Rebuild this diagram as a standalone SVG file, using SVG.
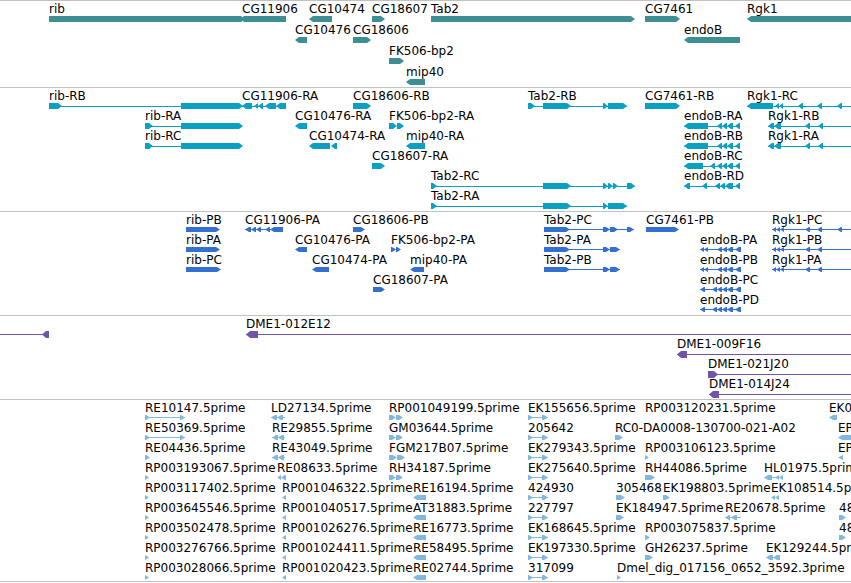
<svg xmlns="http://www.w3.org/2000/svg" width="851" height="583" viewBox="0 0 851 583">
<style>
text{font-family:"DejaVu Sans","Liberation Sans",sans-serif;font-size:12px;fill:#000}
.sep{stroke:#c0c0c0;stroke-width:1;fill:none}
.g{fill:#3d8f93}
.t{fill:#0aa0c2}
.tl{stroke:#0aa0c2;stroke-width:1;fill:none}
.p{fill:#3370d0}
.pl{stroke:#3370d0;stroke-width:1;fill:none}
.c{fill:#7055a6}
.cl{stroke:#7055a6;stroke-width:1;fill:none}
.e{fill:#80b8e0}
.el{stroke:#80b8e0;stroke-width:1;fill:none}
</style>
<rect width="851" height="583" fill="#fff"/>
<g id="separators">
<path class="sep" d="M0,0.5H851M0,87.5H851M0,211.5H851M0,315.5H851M0,399.5H851M0,581.5H851"/>
</g>
<g id="connectors"></g>

<!-- Gene track -->
<g id="genes">
<g id="gene-rib"><text x="49" y="13">rib</text><path class="g" d="M49,16H241L245,19L241,22H49Z"/></g>
<g id="gene-CG11906"><text x="242" y="13">CG11906</text><path class="g" d="M286,16H244L240,19L244,22H286Z"/></g>
<g id="gene-CG10474"><text x="309" y="13">CG10474</text><path class="g" d="M332,16H313L309,19L313,22H332Z"/></g>
<g id="gene-CG18607"><text x="372" y="13">CG18607</text><path class="g" d="M372,16H381L385,19L381,22H372Z"/></g>
<g id="gene-Tab2"><text x="431" y="13">Tab2</text><path class="g" d="M431,16H631L635,19L631,22H431Z"/></g>
<g id="gene-CG7461"><text x="645" y="13">CG7461</text><path class="g" d="M645,16H676L680,19L676,22H645Z"/></g>
<g id="gene-Rgk1"><text x="747" y="13">Rgk1</text><path class="g" d="M851,16H751L747,19L751,22H851Z"/></g>
<g id="gene-CG10476"><text x="295" y="34">CG10476</text><path class="g" d="M307,37H299L295,40L299,43H307Z"/></g>
<g id="gene-CG18606"><text x="353" y="34">CG18606</text><path class="g" d="M353,37H367L371,40L367,43H353Z"/></g>
<g id="gene-endoB"><text x="684" y="34">endoB</text><path class="g" d="M740,37H688L684,40L688,43H740Z"/></g>
<g id="gene-FK506-bp2"><text x="389" y="55">FK506-bp2</text><path class="g" d="M389,58H400L404,61L400,64H389Z"/></g>
<g id="gene-mip40"><text x="406" y="76">mip40</text><path class="g" d="M425,79H410L406,82L410,85H425Z"/></g>
</g>

<!-- Transcript track -->
<g id="transcripts">
<g id="tx-rib-RB"><text x="49" y="100">rib-RB</text><path class="tl" d="M49,106.5H240"/><path class="t" d="M49,103H58L62,106L58,109H49Z M181,103H239L243,106L239,109H181Z"/></g>
<g id="tx-CG11906-RA"><text x="242" y="100">CG11906-RA</text><path class="tl" d="M242,106.5H286"/><path class="t" d="M252,103H246L242,106L246,109H252Z M258,103L254,106L258,109Z M263,103H262L258,106L262,109H263Z M276,103H269L265,106L269,109H276Z M286,103H280L276,106L280,109H286Z"/></g>
<g id="tx-CG18606-RB"><text x="353" y="100">CG18606-RB</text><path class="t" d="M353,103H367L371,106L367,109H353Z"/></g>
<g id="tx-Tab2-RB"><text x="528" y="100">Tab2-RB</text><path class="tl" d="M528,106.5H627"/><path class="t" d="M528,103H531L535,106L531,109H528Z M543,103H567L571,106L567,109H543Z M603,103H604L608,106L604,109H603Z M608,103H623L627,106L623,109H608Z"/></g>
<g id="tx-CG7461-RB"><text x="645" y="100">CG7461-RB</text><path class="t" d="M645,103H676L680,106L676,109H645Z"/></g>
<g id="tx-Rgk1-RC"><text x="747" y="100">Rgk1-RC</text><path class="tl" d="M747,106.5H851"/><path class="t" d="M773,103H751L747,106L751,109H773Z M779,103L775,106L779,109Z M783,103L779,106L783,109Z M803,103H802L798,106L802,109H803Z M822,103H821L817,106L821,109H822Z M842,103H841L837,106L841,109H842Z"/></g>

<g id="tx-rib-RA"><text x="145" y="120">rib-RA</text><path class="tl" d="M145,126.5H181"/><path class="t" d="M145,123H149L153,126L149,129H145Z M181,123H239L243,126L239,129H181Z"/></g>
<g id="tx-CG10476-RA"><text x="295" y="120">CG10476-RA</text><path class="t" d="M307,123H299L295,126L299,129H307Z"/></g>
<g id="tx-FK506-bp2-RA"><text x="389" y="120">FK506-bp2-RA</text><path class="t" d="M389,123H393L397,126L393,129H389Z M397,123H400L404,126L400,129H397Z"/></g>
<g id="tx-endoB-RA"><text x="684" y="120">endoB-RA</text><path class="tl" d="M684,126.5H740"/><path class="t" d="M708,123H688L684,126L688,129H708Z M722,123H721L717,126L721,129H722Z M727,123H726L722,126L726,129H727Z M733,123H731L727,126L731,129H733Z M740,123H739L735,126L739,129H740Z"/></g>
<g id="tx-Rgk1-RB"><text x="768" y="120">Rgk1-RB</text><path class="tl" d="M768,126.5H851"/><path class="t" d="M774,123H772L768,126L772,129H774Z M781,123H778L774,126L778,129H781Z M810,123H809L805,126L809,129H810Z M823,123H822L818,126L822,129H823Z"/></g>

<g id="tx-rib-RC"><text x="145" y="140">rib-RC</text><path class="tl" d="M145,146.5H181"/><path class="t" d="M145,143H149L153,146L149,149H145Z M181,143H239L243,146L239,149H181Z"/></g>
<g id="tx-CG10474-RA"><text x="309" y="140">CG10474-RA</text><path class="t" d="M330,143H313L309,146L313,149H330Z M337,143H335L331,146L335,149H337Z"/></g>
<g id="tx-mip40-RA"><text x="406" y="140">mip40-RA</text><path class="t" d="M425,143H410L406,146L410,149H425Z"/></g>
<g id="tx-endoB-RB"><text x="684" y="140">endoB-RB</text><path class="tl" d="M684,146.5H740"/><path class="t" d="M708,143H688L684,146L688,149H708Z M722,143H721L717,146L721,149H722Z M727,143H726L722,146L726,149H727Z M733,143H731L727,146L731,149H733Z M740,143H739L735,146L739,149H740Z"/></g>
<g id="tx-Rgk1-RA"><text x="768" y="140">Rgk1-RA</text><path class="tl" d="M768,146.5H851"/><path class="t" d="M774,143H772L768,146L772,149H774Z M781,143H778L774,146L778,149H781Z M810,143H809L805,146L809,149H810Z M823,143H822L818,146L822,149H823Z"/></g>

<g id="tx-CG18607-RA"><text x="372" y="160">CG18607-RA</text><path class="t" d="M372,163H381L385,166L381,169H372Z"/></g>
<g id="tx-endoB-RC"><text x="684" y="160">endoB-RC</text><path class="tl" d="M684,166.5H740"/><path class="t" d="M703,163H688L684,166L688,169H703Z M715,163H714L710,166L714,169H715Z M722,163H721L717,166L721,169H722Z M727,163H726L722,166L726,169H727Z M733,163H731L727,166L731,169H733Z M740,163H739L735,166L739,169H740Z"/></g>

<g id="tx-Tab2-RC"><text x="431" y="180">Tab2-RC</text><path class="tl" d="M431,186.5H635"/><path class="t" d="M431,183H433L437,186L433,189H431Z M543,183H567L571,186L567,189H543Z M603,183H604L608,186L604,189H603Z M608,183H609L613,186L609,189H608Z M613,183H614L618,186L614,189H613Z M627,183H631L635,186L631,189H627Z"/></g>
<g id="tx-endoB-RD"><text x="684" y="180">endoB-RD</text><path class="tl" d="M684,186.5H740"/><path class="t" d="M690,183H688L684,186L688,189H690Z M707,183H706L702,186L706,189H707Z M720,183H719L715,186L719,189H720Z M725,183H724L720,186L724,189H725Z M733,183H729L725,186L729,189H733Z M740,183H739L735,186L739,189H740Z"/></g>

<g id="tx-Tab2-RA"><text x="431" y="200">Tab2-RA</text><path class="tl" d="M431,206.5H627"/><path class="t" d="M431,203H433L437,206L433,209H431Z M543,203H567L571,206L567,209H543Z M603,203H604L608,206L604,209H603Z M608,203H623L627,206L623,209H608Z"/></g>
</g>

<!-- Protein track -->
<g id="proteins">
<g id="pep-rib-PB"><text x="186" y="224">rib-PB</text><path class="p" d="M186,227H216L220,229.5L216,232H186Z"/></g>
<g id="pep-CG11906-PA"><text x="245" y="224">CG11906-PA</text><path class="pl" d="M245,229.5H283"/><path class="p" d="M251,227H249L245,229.5L249,232H251Z M256,227H255L251,229.5L255,232H256Z M261,227H260L256,229.5L260,232H261Z M270,227H269L265,229.5L269,232H270Z M283,227H274L270,229.5L274,232H283Z"/></g>
<g id="pep-CG18606-PB"><text x="353" y="224">CG18606-PB</text><path class="p" d="M353,227H361L365,229.5L361,232H353Z"/></g>
<g id="pep-Tab2-PC"><text x="544" y="224">Tab2-PC</text><path class="pl" d="M544,229.5H634"/><path class="p" d="M544,227H566L570,229.5L566,232H544Z M603,227H606L610,229.5L606,232H603Z M610,227H614L618,229.5L614,232H610Z M627,227H630L634,229.5L630,232H627Z"/></g>
<g id="pep-CG7461-PB"><text x="646" y="224">CG7461-PB</text><path class="p" d="M646,227H675L679,229.5L675,232H646Z"/></g>
<g id="pep-Rgk1-PC"><text x="772" y="224">Rgk1-PC</text><path class="pl" d="M772,229.5H851"/><path class="p" d="M776,227L772,229.5L776,232Z M780,227L776,229.5L780,232Z M784,227L780,229.5L784,232Z M810,227H809L805,229.5L809,232H810Z M822,227H821L817,229.5L821,232H822Z M842,227H841L837,229.5L841,232H842Z"/></g>

<g id="pep-rib-PA"><text x="186" y="244">rib-PA</text><path class="p" d="M186,247H216L220,249.5L216,252H186Z"/></g>
<g id="pep-CG10476-PA"><text x="295" y="244">CG10476-PA</text><path class="p" d="M307,247H299L295,249.5L299,252H307Z"/></g>
<g id="pep-FK506-bp2-PA"><text x="391" y="244">FK506-bp2-PA</text><path class="p" d="M391,247H392L396,249.5L392,252H391Z M396,247H397L401,249.5L397,252H396Z"/></g>
<g id="pep-Tab2-PA"><text x="544" y="244">Tab2-PA</text><path class="pl" d="M544,249.5H620"/><path class="p" d="M544,247H566L570,249.5L566,252H544Z M603,247H606L610,249.5L606,252H603Z M610,247H616L620,249.5L616,252H610Z"/></g>
<g id="pep-endoB-PA"><text x="700" y="244">endoB-PA</text><path class="pl" d="M700,249.5H741"/><path class="p" d="M704,247L700,249.5L704,252Z M708,247L704,249.5L708,252Z M722,247H721L717,249.5L721,252H722Z M727,247H726L722,249.5L726,252H727Z M733,247H731L727,249.5L731,252H733Z M741,247H739L735,249.5L739,252H741Z"/></g>
<g id="pep-Rgk1-PB"><text x="772" y="244">Rgk1-PB</text><path class="pl" d="M772,249.5H851"/><path class="p" d="M776,247L772,249.5L776,252Z M780,247L776,249.5L780,252Z M784,247L780,249.5L784,252Z M810,247H809L805,249.5L809,252H810Z M822,247H821L817,249.5L821,252H822Z"/></g>

<g id="pep-rib-PC"><text x="186" y="264">rib-PC</text><path class="p" d="M186,267H217L221,269.5L217,272H186Z"/></g>
<g id="pep-CG10474-PA"><text x="312" y="264">CG10474-PA</text><path class="p" d="M329,267H316L312,269.5L316,272H329Z"/></g>
<g id="pep-mip40-PA"><text x="410" y="264">mip40-PA</text><path class="p" d="M424,267H414L410,269.5L414,272H424Z"/></g>
<g id="pep-Tab2-PB"><text x="544" y="264">Tab2-PB</text><path class="pl" d="M544,269.5H620"/><path class="p" d="M544,267H566L570,269.5L566,272H544Z M603,267H606L610,269.5L606,272H603Z M610,267H616L620,269.5L616,272H610Z"/></g>
<g id="pep-endoB-PB"><text x="700" y="264">endoB-PB</text><path class="pl" d="M700,269.5H741"/><path class="p" d="M704,267L700,269.5L704,272Z M708,267L704,269.5L708,272Z M722,267H721L717,269.5L721,272H722Z M727,267H726L722,269.5L726,272H727Z M733,267H731L727,269.5L731,272H733Z M741,267H739L735,269.5L739,272H741Z"/></g>
<g id="pep-Rgk1-PA"><text x="772" y="264">Rgk1-PA</text><path class="pl" d="M772,269.5H851"/><path class="p" d="M776,267L772,269.5L776,272Z M780,267L776,269.5L780,272Z M784,267L780,269.5L784,272Z M810,267H809L805,269.5L809,272H810Z M822,267H821L817,269.5L821,272H822Z"/></g>

<g id="pep-CG18607-PA"><text x="373" y="284">CG18607-PA</text><path class="p" d="M373,287H381L385,289.5L381,292H373Z"/></g>
<g id="pep-endoB-PC"><text x="700" y="284">endoB-PC</text><path class="pl" d="M700,289.5H741"/><path class="p" d="M705,287H704L700,289.5L704,292H705Z M717,287H716L712,289.5L716,292H717Z M722,287H721L717,289.5L721,292H722Z M727,287H726L722,289.5L726,292H727Z M733,287H731L727,289.5L731,292H733Z M741,287H739L735,289.5L739,292H741Z"/></g>
<g id="pep-endoB-PD"><text x="700" y="304">endoB-PD</text><path class="pl" d="M700,309.5H741"/><path class="p" d="M705,307H704L700,309.5L704,312H705Z M717,307H716L712,309.5L716,312H717Z M722,307H721L717,309.5L721,312H722Z M727,307H726L722,309.5L726,312H727Z M733,307H731L727,309.5L731,312H733Z M741,307H739L735,309.5L739,312H741Z"/></g>
</g>

<!-- Clone track -->
<g id="clones">
<g id="clone-left"><path class="cl" d="M0,334.5H49"/><path class="c" d="M49,331H46L42,334.5L46,338H49Z"/></g>
<g id="clone-DME1-012E12"><text x="246" y="328">DME1-012E12</text><path class="cl" d="M246,334.5H851"/><path class="c" d="M258,331H250L246,334.5L250,338H258Z"/></g>
<g id="clone-DME1-009F16"><text x="677" y="348">DME1-009F16</text><path class="cl" d="M677,354.5H851"/><path class="c" d="M687,351H681L677,354.5L681,358H687Z"/></g>
<g id="clone-DME1-021J20"><text x="708" y="368">DME1-021J20</text><path class="cl" d="M708,374.5H851"/><path class="c" d="M708,371H714L718,374.5L714,378H708Z"/></g>
<g id="clone-DME1-014J24"><text x="709" y="388">DME1-014J24</text><path class="cl" d="M709,394.5H851"/><path class="c" d="M719,391H713L709,394.5L713,398H719Z"/></g>
</g>

<!-- EST track -->
<g id="ests">
<!-- row 0 -->
<g id="est-RE10147"><text x="145" y="412">RE10147.5prime</text><path class="el" d="M145,417.5H185"/><path class="e" d="M145,415H146L150,417.5L146,420H145Z M180,415H181L185,417.5L181,420H180Z"/></g>
<g id="est-LD27134"><text x="271" y="412">LD27134.5prime</text><path class="el" d="M271,417.5H285"/><path class="e" d="M277,415H275L271,417.5L275,420H277Z M283,415H281L277,417.5L281,420H283Z"/></g>
<g id="est-RP001049199"><text x="389" y="412">RP001049199.5prime</text><path class="e" d="M389,415H392L396,417.5L392,420H389Z M396,415H399L403,417.5L399,420H396Z"/></g>
<g id="est-EK155656"><text x="528" y="412">EK155656.5prime</text><path class="el" d="M528,417.5H548"/><path class="e" d="M528,415H529L533,417.5L529,420H528Z M542,415H544L548,417.5L544,420H542Z"/></g>
<g id="est-RP003120231"><text x="645" y="412">RP003120231.5prime</text></g>
<g id="est-EK0"><text x="829" y="412">EK0</text><path class="e" d="M837,415H833L829,417.5L833,420H837Z"/></g>
<!-- row 1 -->
<g id="est-RE50369"><text x="145" y="432">RE50369.5prime</text><path class="el" d="M145,437.5H185"/><path class="e" d="M145,435H146L150,437.5L146,440H145Z M180,435H181L185,437.5L181,440H180Z"/></g>
<g id="est-RE29855"><text x="272" y="432">RE29855.5prime</text><path class="el" d="M272,437.5H285"/><path class="e" d="M278,435H276L272,437.5L276,440H278Z M284,435H282L278,437.5L282,440H284Z"/></g>
<g id="est-GM03644"><text x="389" y="432">GM03644.5prime</text><path class="e" d="M389,435H392L396,437.5L392,440H389Z M396,435H399L403,437.5L399,440H396Z"/></g>
<g id="est-205642"><text x="528" y="432">205642</text><path class="el" d="M528,437.5H548"/><path class="e" d="M528,435H529L533,437.5L529,440H528Z M542,435H544L548,437.5L544,440H542Z"/></g>
<g id="est-RC0-DA0008"><text x="615" y="432">RC0-DA0008-130700-021-A02</text><path class="e" d="M615,435H619L623,437.5L619,440H615Z"/></g>
<g id="est-EP-1"><text x="838" y="432">EP</text><path class="e" d="M851,435H842L838,437.5L842,440H851Z"/></g>
<!-- row 2 -->
<g id="est-RE04436"><text x="145" y="452">RE04436.5prime</text><path class="e" d="M145,455H146L150,457.5L146,460H145Z"/></g>
<g id="est-RE43049"><text x="272" y="452">RE43049.5prime</text><path class="el" d="M272,457.5H285"/><path class="e" d="M278,455H276L272,457.5L276,460H278Z M284,455H282L278,457.5L282,460H284Z"/></g>
<g id="est-FGM217B07"><text x="389" y="452">FGM217B07.5prime</text><path class="e" d="M389,455H393L397,457.5L393,460H389Z M397,455H401L405,457.5L401,460H397Z"/></g>
<g id="est-EK279343"><text x="528" y="452">EK279343.5prime</text><path class="el" d="M528,457.5H548"/><path class="e" d="M528,455H529L533,457.5L529,460H528Z M542,455H544L548,457.5L544,460H542Z"/></g>
<g id="est-RP003106123"><text x="645" y="452">RP003106123.5prime</text><path class="e" d="M645,455L649,457.5L645,460Z"/></g>
<g id="est-EP-2"><text x="838" y="452">EP</text><path class="e" d="M843,455L838,457.5L843,460Z"/></g>
<!-- row 3 -->
<g id="est-RP003193067"><text x="145" y="472">RP003193067.5prime</text><path class="e" d="M145,475L149,477.5L145,480Z"/></g>
<g id="est-RE08633"><text x="277" y="472">RE08633.5prime</text><path class="e" d="M281,475L277,477.5L281,480Z M286,475H285L281,477.5L285,480H286Z"/></g>
<g id="est-RH34187"><text x="389" y="472">RH34187.5prime</text><path class="e" d="M389,475H392L396,477.5L392,480H389Z M396,475H399L403,477.5L399,480H396Z"/></g>
<g id="est-EK275640"><text x="528" y="472">EK275640.5prime</text><path class="el" d="M528,477.5H548"/><path class="e" d="M528,475H529L533,477.5L529,480H528Z M542,475H544L548,477.5L544,480H542Z"/></g>
<g id="est-RH44086"><text x="645" y="472">RH44086.5prime</text><path class="e" d="M645,475H651L655,477.5L651,480H645Z"/></g>
<g id="est-HL01975"><text x="764" y="472">HL01975.5prime</text><path class="el" d="M764,477.5H783"/><path class="e" d="M772,475H768L764,477.5L768,480H772Z M779,475L775,477.5L779,480Z M783,475L779,477.5L783,480Z"/></g>
<!-- row 4 -->
<g id="est-RP003117402"><text x="145" y="492">RP003117402.5prime</text><path class="e" d="M145,495L149,497.5L145,500Z"/></g>
<g id="est-RP001046322"><text x="282" y="492">RP001046322.5prime</text><path class="e" d="M286,495L282,497.5L286,500Z"/></g>
<g id="est-RE16194"><text x="413" y="492">RE16194.5prime</text><path class="e" d="M426,495H417L413,497.5L417,500H426Z"/></g>
<g id="est-424930"><text x="528" y="492">424930</text><path class="el" d="M528,497.5H548"/><path class="e" d="M528,495H529L533,497.5L529,500H528Z M542,495H544L548,497.5L544,500H542Z"/></g>
<g id="est-305468"><text x="616" y="492">305468</text><path class="e" d="M616,495H621L625,497.5L621,500H616Z"/></g>
<g id="est-EK198803"><text x="663" y="492">EK198803.5prime</text><path class="e" d="M663,495H666L670,497.5L666,500H663Z"/></g>
<g id="est-EK108514"><text x="771" y="492">EK108514.5prime</text><path class="e" d="M775,495L771,497.5L775,500Z M779,495L775,497.5L779,500Z"/></g>
<!-- row 5 -->
<g id="est-RP003645546"><text x="145" y="512">RP003645546.5prime</text><path class="e" d="M145,515L149,517.5L145,520Z"/></g>
<g id="est-RP001040517"><text x="282" y="512">RP001040517.5prime</text><path class="e" d="M286,515L282,517.5L286,520Z"/></g>
<g id="est-AT31883"><text x="413" y="512">AT31883.5prime</text><path class="e" d="M426,515H417L413,517.5L417,520H426Z"/></g>
<g id="est-227797"><text x="528" y="512">227797</text><path class="el" d="M528,517.5H548"/><path class="e" d="M528,515H529L533,517.5L529,520H528Z M542,515H544L548,517.5L544,520H542Z"/></g>
<g id="est-EK184947"><text x="616" y="512">EK184947.5prime</text><path class="e" d="M616,515H620L624,517.5L620,520H616Z"/></g>
<g id="est-RE20678"><text x="725" y="512">RE20678.5prime</text><path class="el" d="M725,517.5H741"/><path class="e" d="M730,515H729L725,517.5L729,520H730Z M737,515H735L731,517.5L735,520H737Z"/></g>
<g id="est-48-1"><text x="839" y="512">48</text><path class="e" d="M839,515H842L846,517.5L842,520H839Z"/></g>
<!-- row 6 -->
<g id="est-RP003502478"><text x="145" y="532">RP003502478.5prime</text><path class="e" d="M145,535L149,537.5L145,540Z"/></g>
<g id="est-RP001026276"><text x="282" y="532">RP001026276.5prime</text><path class="e" d="M286,535L282,537.5L286,540Z"/></g>
<g id="est-RE16773"><text x="413" y="532">RE16773.5prime</text><path class="e" d="M426,535H417L413,537.5L417,540H426Z"/></g>
<g id="est-EK168645"><text x="528" y="532">EK168645.5prime</text><path class="el" d="M528,537.5H548"/><path class="e" d="M528,535H529L533,537.5L529,540H528Z M542,535H544L548,537.5L544,540H542Z"/></g>
<g id="est-RP003075837"><text x="645" y="532">RP003075837.5prime</text><path class="e" d="M645,535H646L650,537.5L646,540H645Z"/></g>
<g id="est-48-2"><text x="839" y="532">48</text><path class="e" d="M839,535H842L846,537.5L842,540H839Z"/></g>
<!-- row 7 -->
<g id="est-RP003276766"><text x="145" y="552">RP003276766.5prime</text><path class="e" d="M145,555L149,557.5L145,560Z"/></g>
<g id="est-RP001024411"><text x="282" y="552">RP001024411.5prime</text><path class="e" d="M286,555L282,557.5L286,560Z"/></g>
<g id="est-RE58495"><text x="413" y="552">RE58495.5prime</text><path class="e" d="M426,555H417L413,557.5L417,560H426Z"/></g>
<g id="est-EK197330"><text x="528" y="552">EK197330.5prime</text><path class="el" d="M528,557.5H548"/><path class="e" d="M528,555H529L533,557.5L529,560H528Z M542,555H544L548,557.5L544,560H542Z"/></g>
<g id="est-GH26237"><text x="645" y="552">GH26237.5prime</text><path class="e" d="M645,555H649L653,557.5L649,560H645Z"/></g>
<g id="est-EK129244"><text x="766" y="552">EK129244.5prime</text><path class="el" d="M766,557.5H780"/><path class="e" d="M773,555H770L766,557.5L770,560H773Z M780,555H777L773,557.5L777,560H780Z"/></g>
<!-- row 8 -->
<g id="est-RP003028066"><text x="145" y="572">RP003028066.5prime</text><path class="e" d="M145,575L149,577.5L145,580Z"/></g>
<g id="est-RP001020423"><text x="282" y="572">RP001020423.5prime</text><path class="e" d="M286,575L282,577.5L286,580Z"/></g>
<g id="est-RE02744"><text x="413" y="572">RE02744.5prime</text><path class="e" d="M426,575H417L413,577.5L417,580H426Z"/></g>
<g id="est-317099"><text x="528" y="572">317099</text><path class="el" d="M528,577.5H548"/><path class="e" d="M528,575H529L533,577.5L529,580H528Z M542,575H544L548,577.5L544,580H542Z"/></g>
<g id="est-Dmel_dig"><text x="617" y="572">Dmel_dig_017156_0652_3592.3prime</text><path class="e" d="M617,575L621,577.5L617,580Z"/></g>
</g>
</svg>
